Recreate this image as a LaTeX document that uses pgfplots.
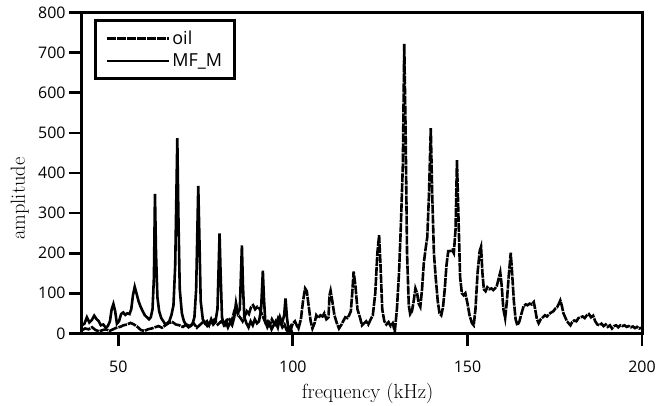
\documentclass[border=0pt]{standalone}
\usepackage{fontspec}
\usepackage{pgfplots}
\pgfplotsset{compat=1.18}
\newfontfamily\tickfont{Open Sans}

\begin{document}
\begin{tikzpicture}
\begin{axis}[
    at={(0,0)}, anchor=south west,
    scale only axis,
    width=560bp, height=320.6bp,
    xmin=39.6, xmax=200,
    ymin=0, ymax=800,
    xtick={50,100,150,200},
    ytick={0,100,...,800},
    tick pos=left,
    tick align=outside,
    major tick length=13bp,
    major tick style={black, line width=2.8bp},
    axis on top,
    axis line style={line width=3bp},
    /pgf/number format/assume math mode=true,
    ticklabel style={font=\tickfont\fontsize{16}{19}\selectfont},
    xticklabel style={inner ysep=14bp},
    xlabel={frequency (kHz)},
    ylabel={amplitude},
    label style={font=\fontsize{20.5}{24}\selectfont},
    xlabel style={at={(axis description cs:0.51,-0.186)}, anchor=center},
    ylabel style={at={(axis description cs:-0.111,0.42)}, anchor=center, rotate=0},
    legend style={at={(0.022,0.979)}, anchor=north west, draw=black, line width=3bp,
        font=\tickfont\fontsize{18}{21}\selectfont, row sep=4bp,
        inner xsep=10bp, inner ysep=8bp},
    legend cell align=left,
    legend image code/.code={\draw[#1,line width=2.6bp] (0bp,0bp) -- (48bp,0bp);
        \path (0bp,0bp) -- (62bp,0bp);},
]
\addplot[black, line width=2.6bp, dash pattern=on 9bp off 1bp] coordinates {
(39.6,8)(40.5,12)(41.5,10)(42.5,15)(43.5,8)(44.5,5)(45.5,8)(46.5,10)(47.5,6)(48.5,10)
(49.5,14)(50.5,16)(51.5,20)(52.5,22)(53.5,26)(54.5,22)(55.5,16)(56.5,8)(57.5,6)(58.5,10)
(59.5,12)(60.5,15)(61.5,18)(62.5,14)(63.5,20)(64.5,26)(65.5,28)(66.5,22)(67.5,20)(68.5,16)
(69.5,22)(70.5,18)(71.5,26)(72.5,14)(73.5,22)(74.5,30)(75.5,18)(76.5,25)(77.5,34)(78.5,22)
(79.5,30)(80.5,20)(81.5,38)(82.5,30)(83.2,55)(83.8,68)(84.4,45)(85.0,38)(85.6,30)(86.2,42)
(86.8,55)(87.4,48)(88.0,65)(88.6,70)(89.2,60)(89.8,66)(90.4,62)(91.0,50)(91.6,38)(92.2,25)
(92.8,30)(93.4,20)(94.0,35)(94.6,25)(95.2,20)(95.8,38)(96.4,28)(97.0,15)(97.6,22)(98.2,8)
(98.8,2)(99.4,10)(100.0,25)(100.6,30)(101.2,18)(101.6,12)(102.3,35)(102.9,80)(103.5,112)(104.0,105)
(104.5,70)(105.1,30)(105.6,12)(106.2,25)(106.7,45)(107.3,38)(107.9,45)(108.5,42)(109.0,50)(109.6,35)
(110.2,40)(110.5,95)(110.8,106)(111.3,80)(111.9,45)(112.6,25)(113.2,12)(113.8,20)(114.4,30)(115.0,40)
(115.6,38)(116.1,45)(116.6,55)(117.0,100)(117.4,154)(117.9,120)(118.5,60)(119.2,40)(119.8,20)(120.4,25)
(121.0,30)(121.6,22)(122.3,35)(122.9,45)(123.6,100)(124.2,200)(124.7,245)(125.1,170)(125.6,60)(126.2,30)
(126.8,22)(127.4,28)(128.0,18)(128.6,25)(129.2,5)(129.8,60)(130.4,150)(130.9,260)(131.5,420)(131.9,722)
(132.3,500)(132.7,200)(133.2,70)(133.6,48)(134.1,55)(134.6,80)(135.1,112)(135.6,100)(136.0,75)(136.5,66)
(137.0,110)(137.5,175)(138.0,210)(138.5,240)(139.0,350)(139.5,512)(139.9,350)(140.4,200)(140.9,140)(141.5,80)
(142.0,50)(142.5,45)(143.0,65)(143.5,110)(144.0,170)(144.5,205)(145.0,205)(145.6,208)(146.1,200)(146.6,260)
(147.0,432)(147.4,300)(147.9,140)(148.4,100)(148.9,95)(149.4,100)(150.0,75)(150.6,45)(151.3,25)(151.8,20)
(152.3,60)(152.9,150)(153.5,205)(153.9,216)(154.3,150)(154.7,110)(155.2,105)(155.7,115)(156.3,110)(156.9,112)
(157.4,108)(157.9,112)(158.4,118)(158.9,135)(159.4,152)(159.8,120)(160.3,60)(160.8,38)(161.3,80)(161.8,140)
(162.4,201)(162.8,150)(163.3,80)(163.8,35)(164.3,20)(164.9,30)(165.5,50)(166.1,68)(166.7,72)(167.2,70)
(167.8,74)(168.4,72)(169.0,78)(169.4,60)(169.9,35)(170.4,25)(171.0,35)(171.6,40)(172.2,45)(172.8,42)
(173.4,48)(174.0,52)(174.6,55)(175.2,62)(175.7,65)(176.1,72)(176.6,82)(177.0,70)(177.5,50)(178.0,40)
(178.5,30)(179.0,25)(179.5,20)(180.0,28)(180.6,32)(181.2,30)(181.8,38)(182.4,40)(183.0,42)(183.6,38)
(184.2,45)(184.8,48)(185.4,40)(186.0,44)(186.6,30)(187.2,22)(187.8,20)(188.4,24)(189.0,18)(189.6,22)
(190.2,16)(190.8,20)(191.4,12)(192.0,18)(192.6,20)(193.2,15)(193.8,20)(194.4,18)(195.0,20)(195.6,16)
(196.2,18)(196.8,15)(197.4,17)(198.0,13)(198.6,16)(199.2,12)(200,14)
};
\addplot[black, line width=2.6bp] coordinates {
(39.6,20)(40.3,24)(41.0,40)(41.7,27)(42.4,33)(43.1,44)(43.8,35)(44.4,30)(45.0,20)(45.7,22)
(46.4,14)(47.0,18)(47.6,30)(48.1,60)(48.6,73)(49.1,55)(49.6,24)(50.2,30)(50.8,48)(51.4,52)
(52.0,46)(52.6,50)(53.2,48)(53.7,60)(54.2,95)(54.7,116)(55.2,100)(55.8,80)(56.4,66)(57.0,55)
(57.6,45)(58.2,40)(58.8,35)(59.3,40)(59.8,60)(60.2,140)(60.5,348)(60.8,200)(61.2,90)(61.7,55)
(62.3,38)(62.9,30)(63.5,22)(64.0,25)(64.6,30)(65.2,45)(65.8,70)(66.3,170)(66.9,487)(67.2,300)
(67.6,110)(68.2,50)(68.8,30)(69.5,20)(70.1,15)(70.7,18)(71.2,22)(71.8,40)(72.3,110)(72.9,368)
(73.2,250)(73.6,80)(74.2,35)(74.8,25)(75.4,30)(76.0,20)(76.6,35)(77.2,22)(77.8,28)(78.4,60)
(79.0,249)(79.3,150)(79.7,40)(80.2,22)(80.8,30)(81.4,15)(82.0,28)(82.6,20)(83.2,40)(83.7,75)
(84.2,50)(84.8,60)(85.4,219)(85.7,120)(86.1,40)(86.7,25)(87.3,15)(87.9,30)(88.5,20)(89.1,35)
(89.7,25)(90.3,30)(90.9,60)(91.4,156)(91.7,90)(92.1,30)(92.7,15)(93.3,25)(93.9,10)(94.5,20)
(95.1,30)(95.7,15)(96.3,40)(96.9,25)(97.5,45)(97.9,87)(98.3,40)(98.8,5)(99.3,15)(99.8,0)
};
\legend{oil,MF\_M}
\end{axis}
\pgfresetboundingbox
\useasboundingbox (-82bp,-72bp) rectangle (588bp,333.3bp);
\end{tikzpicture}
\end{document}
